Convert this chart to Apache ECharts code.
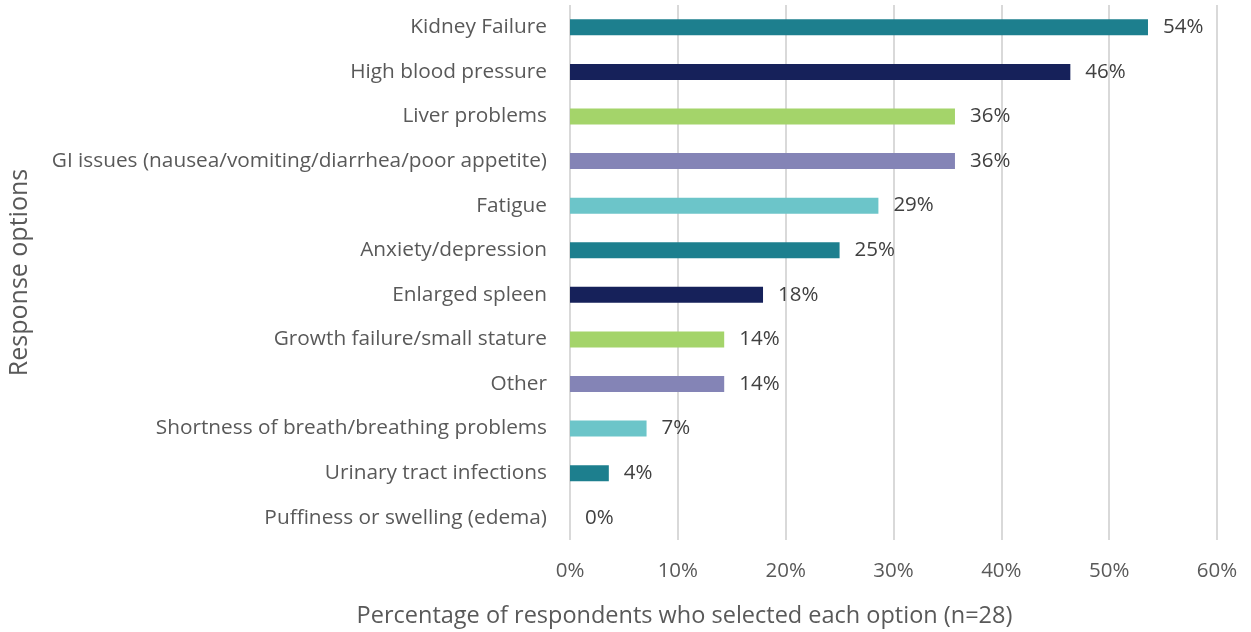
<!DOCTYPE html>
<html>
<head>
<meta charset="utf-8">
<script src="https://cdn.jsdelivr.net/npm/echarts@6/dist/echarts.min.js"></script>
<style>
  html, body { margin: 0; padding: 0; background: #fff; }
  #chart { width: 1251px; height: 632px; }
</style>
</head>
<body>
<div id="chart"></div>
<script>
// categories top to bottom
var categories = [
  "Kidney Failure",
  "High blood pressure",
  "Liver problems",
  "GI issues (nausea/vomiting/diarrhea/poor appetite)",
  "Fatigue",
  "Anxiety/depression",
  "Enlarged spleen",
  "Growth failure/small stature",
  "Other",
  "Shortness of breath/breathing problems",
  "Urinary tract infections",
  "Puffiness or swelling (edema)"
];
// percent of respondents (n=28)
var values = [53.6, 46.4, 35.7, 35.7, 28.6, 25.0, 17.9, 14.3, 14.3, 7.1, 3.6, 0];
var barColors = ["#1d7f8e", "#16215a", "#a4d46a", "#8484b6", "#6cc5c9"];
var xTicks = [0, 10, 20, 30, 40, 50, 60];

var font = "'Open Sans', 'Noto Sans', sans-serif";
var chart = echarts.init(document.getElementById("chart"));

var option = {
  animation: false,
  grid: { left: 570, right: 34, top: 5, bottom: 92, containLabel: false, outerBoundsMode: "none" },
  xAxis: {
    type: "value",
    min: xTicks[0],
    max: xTicks[xTicks.length - 1],
    interval: 10,
    name: "Percentage of respondents who selected each option (n=28)",
    nameLocation: "middle",
    nameGap: 64,
    nameTextStyle: { color: "#595959", fontSize: 23.5, fontFamily: font, padding: [0, 0, 0, -418] },
    axisLine: { show: false },
    axisTick: { show: false },
    axisLabel: { color: "#595959", fontSize: 20.5, fontFamily: font, margin: 21, formatter: "{value}%" },
    splitLine: { show: true, lineStyle: { color: "#d9d9d9", width: 2 } }
  },
  yAxis: {
    type: "category",
    inverse: true,
    data: categories,
    name: "Response options",
    nameLocation: "middle",
    nameGap: 538,
    nameRotate: 90,
    nameTextStyle: { color: "#595959", fontSize: 25, fontFamily: font },
    axisLine: { show: false },
    axisTick: { show: false },
    axisLabel: { color: "#595959", fontSize: 20.8, fontFamily: font, margin: 23 },
    splitLine: { show: false }
  },
  series: [{
    type: "bar",
    data: values.map(function (v, i) {
      return { value: v, itemStyle: { color: barColors[i % barColors.length] } };
    }),
    barWidth: 16,
    label: {
      show: true,
      position: "right",
      distance: 15,
      color: "#404040",
      fontSize: 20.5,
      fontFamily: font,
      formatter: function (p) { return Math.round(p.value) + "%"; }
    }
  }]
};
chart.setOption(option);
</script>
</body>
</html>
